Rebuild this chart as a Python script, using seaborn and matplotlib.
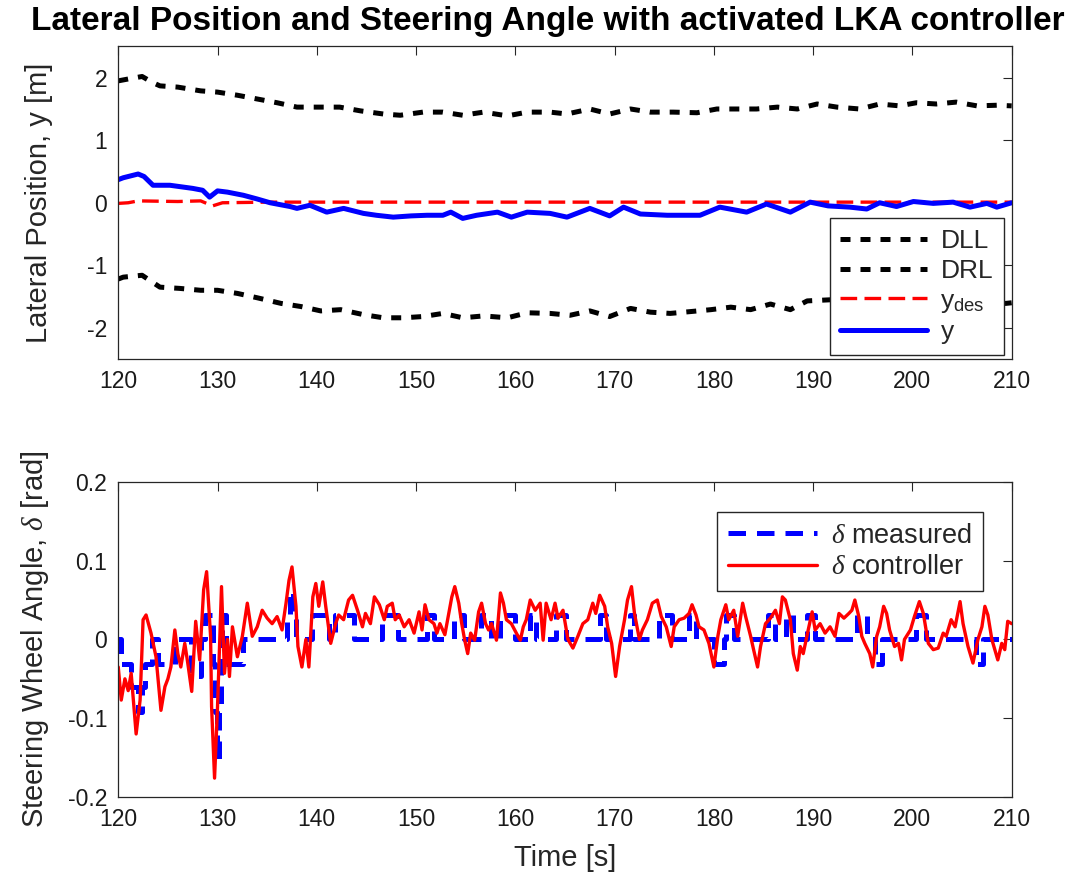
import numpy as np
import pandas as pd
import matplotlib
matplotlib.use('Agg')
import matplotlib.pyplot as plt
import seaborn as sns

# --- Data ---
# top panel: lane boundaries, desired and actual lateral position [m]
dll_t = [120, 121, 122.4, 123.5, 124.2, 126, 128.3, 130, 132, 134, 136, 138, 140, 142.3,
         144.4, 146.7, 148.4, 150.7, 152.7, 154.7, 156.8, 159.2, 161.2, 163.5, 165.2, 167.5,
         169.5, 171.6, 173.6, 175.9, 178.3, 180.3, 182.3, 184.3, 186.4, 188.4, 190.4, 192.4,
         194.7, 196.7, 198.7, 200.4, 202.4, 204.4, 206.5, 208.5, 210]
dll_v = [1.95, 1.98, 2.02, 1.92, 1.87, 1.85, 1.79, 1.77, 1.72, 1.66, 1.60, 1.53, 1.53, 1.53,
         1.47, 1.42, 1.40, 1.45, 1.45, 1.40, 1.45, 1.39, 1.45, 1.45, 1.42, 1.50,
         1.42, 1.50, 1.45, 1.45, 1.44, 1.50, 1.50, 1.50, 1.53, 1.50, 1.58, 1.53,
         1.50, 1.58, 1.55, 1.60, 1.58, 1.61, 1.55, 1.56, 1.55]

drl_t = [120, 120.5, 122.4, 124.2, 126.2, 128.3, 130, 132, 134, 136.4, 138.4, 140.4, 142.4,
         144.7, 146.7, 148.7, 150.7, 152.7, 154.7, 156.8, 159.2, 161.2, 163.5, 165.5, 167.5,
         169.5, 171.6, 173.6, 175.6, 177.7, 179.7, 181.7, 183.7, 185.7, 187.7, 189.4, 192,
         195, 198, 201, 204, 207, 209.4, 210]
drl_v = [-1.22, -1.19, -1.16, -1.35, -1.37, -1.40, -1.40, -1.45, -1.52, -1.61, -1.66, -1.73, -1.71,
         -1.79, -1.84, -1.84, -1.82, -1.77, -1.84, -1.81, -1.84, -1.76, -1.77, -1.80, -1.73,
         -1.82, -1.69, -1.75, -1.77, -1.74, -1.71, -1.67, -1.71, -1.62, -1.71, -1.57, -1.55,
         -1.58, -1.55, -1.57, -1.55, -1.58, -1.61, -1.60]

ydes_t = [120, 121, 122, 126, 128.3, 129.5, 130.5, 135, 150, 170, 190, 210]
ydes_v = [-0.01, 0.0, 0.03, 0.02, 0.03, -0.05, 0.0, 0.01, 0.01, 0.01, 0.01, 0.01]

y_t = [120, 120.5, 121, 122, 122.6, 123.5, 125.2, 127.5, 128.5, 129.2, 130, 131, 132.6, 134,
       135.3, 137.3, 138, 139.3, 141, 142.7, 144.7, 146, 147.7, 149.5, 151.1, 152.7, 153.5,
       154.7, 156.1, 158.2, 159.6, 161.2, 163.5, 165.2, 167.5, 169.5, 170.9, 172.6, 175.3,
       178.6, 180.6, 183.3, 185.3, 187.7, 189.7, 191.5, 193.7, 195.4, 196.7, 198.4, 200.1,
       202.1, 204.1, 205.8, 207.5, 208.5, 210]
y_v = [0.37, 0.40, 0.42, 0.46, 0.42, 0.28, 0.28, 0.23, 0.20, 0.09, 0.19, 0.17, 0.12, 0.06,
       0.0, -0.06, -0.09, -0.04, -0.15, -0.09, -0.17, -0.20, -0.23, -0.21, -0.20, -0.20, -0.15,
       -0.25, -0.20, -0.15, -0.23, -0.15, -0.17, -0.23, -0.09, -0.21, -0.07, -0.18, -0.20,
       -0.20, -0.07, -0.15, -0.02, -0.15, 0.01, -0.05, -0.07, -0.10, 0.0, -0.06, 0.02,
       -0.01, 0.01, -0.07, -0.01, -0.07, 0.0]

# bottom panel: steering wheel angle [rad]
meas_t = [120.0, 120.3, 121.3, 122.0, 122.4, 122.7, 123.4, 124.0, 125.7, 127.3, 128.3, 128.7,
          129.5, 129.7, 129.9, 130.1, 130.3, 130.5, 130.9, 132.6, 137.0, 137.3, 137.6, 137.9,
          139.5, 141.2, 141.8, 143.7, 146.6, 148.2, 151.1, 151.8, 153.8, 154.8, 156.5, 157.5,
          158.5, 160.0, 161.5, 162.1, 164.1, 165.1, 168.5, 169.1, 171.5, 172.0, 174.5, 175.8,
          177.5, 178.2, 180.0, 181.0, 181.2, 182.0, 185.5, 186.2, 187.3, 188.0, 189.4, 190.2,
          194.4, 195.4, 196.2, 196.9, 200.4, 201.4, 206.4, 207.1, 210.0]
meas_v = [0.0, -0.031, -0.061, -0.092, -0.061, -0.031, 0.0, -0.031, 0.0, -0.046, 0.0, 0.031,
          -0.031, -0.092, -0.153, -0.092, -0.031, 0.031, -0.031, 0.0, 0.031, 0.061, 0.031, 0.0,
          0.031, 0.0, 0.031, 0.0, 0.031, 0.0, 0.031, 0.0, 0.031, 0.0, 0.031, 0.0,
          0.031, 0.0, 0.031, 0.0, 0.031, 0.0, 0.031, 0.0, 0.031, 0.0, 0.031, 0.0,
          0.031, 0.0, -0.031, 0.0, 0.031, 0.0, 0.031, 0.0, 0.031, 0.0, 0.031, 0.0,
          0.031, 0.0, -0.031, 0.0, 0.031, 0.0, -0.031, 0.0, 0.0]

ctrl_t = [120.0, 120.3, 120.67, 121.0, 121.3, 121.8, 122.2, 122.5, 122.8, 123.3, 123.8, 124.3,
          124.7, 125.0, 125.3, 125.7, 126.0, 126.3, 126.7, 127.0, 127.4, 127.8, 128.2, 128.6,
          128.9, 129.3, 129.4, 129.7, 130.0, 130.4, 130.7, 131.0, 131.2, 131.5, 132.0, 132.5,
          133.0, 133.5, 134.0, 134.5, 135.0, 135.5, 136.0, 136.5, 136.9, 137.2, 137.5, 137.9,
          138.1, 138.5, 138.9, 139.2, 139.6, 139.9, 140.2, 140.6, 140.9, 141.4, 141.9, 142.2,
          142.7, 143.2, 143.6, 144.1, 144.6, 144.9, 145.4, 145.8, 146.3, 146.8, 147.1, 147.6,
          147.9, 148.3, 148.8, 149.3, 149.8, 150.3, 150.6, 150.9, 151.3, 151.8, 152.1, 152.4,
          152.9, 153.3, 153.6, 153.9, 154.3, 154.6, 154.9, 155.2, 155.5, 155.9, 156.3, 156.6,
          157.0, 157.3, 157.6, 158.1, 158.5, 158.8, 159.1, 159.6, 160.1, 160.5, 160.8, 161.1,
          161.5, 162.0, 162.5, 162.8, 163.1, 163.6, 164.0, 164.3, 164.8, 165.3, 165.8, 166.3,
          166.8, 167.3, 167.8, 168.1, 168.5, 169.0, 169.3, 169.7, 170.1, 170.5, 171.0, 171.3,
          171.7, 172.0, 172.5, 172.8, 173.3, 173.8, 174.3, 174.7, 175.2, 175.7, 176.0, 176.5,
          177.0, 177.5, 177.8, 178.2, 178.5, 179.0, 179.5, 180.0, 180.4, 180.7, 181.2, 181.5,
          182.0, 182.4, 182.9, 183.2, 183.7, 184.0, 184.4, 184.7, 185.2, 185.7, 186.2, 186.6,
          186.9, 187.2, 187.7, 188.0, 188.4, 188.7, 189.0, 189.5, 189.9, 190.2, 190.7, 191.2,
          191.7, 192.2, 192.6, 193.1, 193.6, 193.9, 194.2, 194.6, 194.9, 195.2, 195.7, 196.0,
          196.4, 196.7, 197.1, 197.4, 197.7, 198.2, 198.6, 198.9, 199.2, 199.8, 200.2, 200.7,
          201.1, 201.6, 202.1, 202.6, 203.1, 203.4, 203.9, 204.3, 204.8, 205.1, 205.6, 206.1,
          206.6, 207.0, 207.3, 207.6, 208.0, 208.3, 208.6, 209.0, 209.3, 209.6, 210.0]
ctrl_v = [-0.035, -0.077, -0.05, -0.065, -0.043, -0.12, -0.077, 0.025, 0.031, 0.008, -0.022, -0.09,
          -0.06, -0.05, -0.035, 0.012, -0.018, -0.035, -0.005, -0.03, -0.066, 0.023, -0.026, 0.063,
          0.086, 0.004, -0.085, -0.176, -0.085, 0.067, -0.043, 0.0, -0.047, 0.016, -0.022, 0.004,
          0.046, 0.004, 0.016, 0.037, 0.027, 0.02, 0.029, 0.012, 0.046, 0.075, 0.092, 0.042,
          -0.009, -0.035, 0.0, -0.035, 0.054, 0.071, 0.042, 0.073, 0.042, -0.005, 0.02, 0.031,
          0.025, 0.05, 0.056, 0.037, 0.016, 0.033, 0.02, 0.054, 0.044, 0.025, 0.042, 0.046,
          0.025, 0.031, 0.016, 0.025, 0.008, 0.035, 0.012, 0.044, 0.025, 0.02, 0.008, 0.02,
          0.006, 0.033, 0.054, 0.067, 0.046, 0.02, -0.001, -0.018, 0.008, -0.001, 0.035, 0.046,
          0.02, 0.012, 0.02, -0.001, 0.059, 0.046, 0.025, 0.02, 0.008, -0.001, 0.016, 0.025,
          0.05, 0.037, 0.046, -0.001, 0.046, 0.025, 0.046, 0.027, 0.037, 0.0, -0.011, 0.004,
          0.02, 0.025, 0.046, 0.033, 0.056, 0.042, 0.016, -0.005, -0.047, -0.009, 0.025, 0.05,
          0.067, 0.033, 0.0, 0.012, 0.025, 0.046, 0.05, 0.029, 0.016, -0.009, 0.016, 0.025,
          0.027, 0.033, 0.044, 0.031, 0.016, 0.012, -0.005, -0.035, 0.004, 0.025, 0.044, 0.025,
          0.037, 0.004, 0.046, 0.029, 0.004, -0.013, -0.035, -0.009, 0.02, 0.027, 0.037, 0.02,
          0.054, 0.05, 0.025, -0.018, -0.039, -0.009, -0.018, 0.012, 0.035, 0.012, 0.02, 0.008,
          0.016, 0.004, 0.033, 0.027, 0.033, 0.037, 0.05, 0.029, 0.004, -0.005, -0.018, -0.035,
          0.004, 0.016, 0.042, 0.033, 0.012, -0.009, -0.005, -0.026, 0.0, 0.012, 0.029, 0.048,
          0.033, -0.005, -0.013, -0.011, 0.008, 0.004, 0.025, 0.016, 0.048, 0.02, -0.009, -0.03,
          0.0, 0.016, 0.042, 0.031, 0.0, -0.013, -0.026, -0.005, -0.013, 0.023, 0.02]

x_ticks = [120, 130, 140, 150, 160, 170, 180, 190, 200, 210]
top_yticks = [-2, -1, 0, 1, 2]
bot_yticks = [-0.2, -0.1, 0, 0.1, 0.2]
bot_yticklabels = ['-0.2', '-0.1', '0', '0.1', '0.2']

# --- Style ---
sns.set_theme(style='white')
plt.rcParams['font.family'] = ['Liberation Sans', 'DejaVu Sans']
plt.rcParams['axes.unicode_minus'] = False
plt.rcParams['mathtext.fontset'] = 'custom'
plt.rcParams['mathtext.rm'] = 'Liberation Sans'
plt.rcParams['mathtext.it'] = 'Liberation Serif:italic'

AX_COL = '#262626'

fig = plt.figure(figsize=(10.84, 8.77), dpi=100)
ax1 = fig.add_axes([0.1091, 0.5906, 0.8242, 0.3564])
ax2 = fig.add_axes([0.1091, 0.0912, 0.8242, 0.3594])

# --- Top panel ---
sns.lineplot(x=dll_t, y=dll_v, ax=ax1, color='black', linewidth=3.6,
             linestyle=(0, (2.0, 2.0)), label='DLL')
sns.lineplot(x=drl_t, y=drl_v, ax=ax1, color='black', linewidth=3.6,
             linestyle=(0, (2.0, 2.0)), label='DRL')
sns.lineplot(x=ydes_t, y=ydes_v, ax=ax1, color='#ff0000', linewidth=2.4,
             linestyle=(0, (5, 2.2)), label=r'y$_{\rm des}$')
sns.lineplot(x=y_t, y=y_v, ax=ax1, color='#0000ff', linewidth=3.6, label='y')

ax1.set_xlim(120, 210)
ax1.set_ylim(-2.5, 2.5)
ax1.set_yticks(top_yticks)
ax1.set_ylabel('Lateral Position, y [m]', fontsize=21, labelpad=24)
ax1.set_xlabel('')
ax1.legend(loc='lower right', bbox_to_anchor=(0.991, 0.013), borderaxespad=0,
           fontsize=19, handlelength=3.3, fancybox=False,
           edgecolor=AX_COL, framealpha=1, labelspacing=0.22,
           handletextpad=0.5, borderpad=0.4)

# --- Bottom panel ---
sns.lineplot(x=meas_t, y=meas_v, ax=ax2, color='#0000ff', linewidth=3.6,
             linestyle=(0, (3.5, 2.2)), drawstyle='steps-post', label=r'$\delta$ measured')
sns.lineplot(x=ctrl_t, y=ctrl_v, ax=ax2, color='#ff0000', linewidth=2.4,
             label=r'$\delta$ controller')

ax2.set_xlim(120, 210)
ax2.set_ylim(-0.2, 0.2)
ax2.set_yticks(bot_yticks)
ax2.set_yticklabels(bot_yticklabels)
ax2.set_xlabel('Time [s]', fontsize=21, labelpad=9)
ax2.set_ylabel(r'Steering Wheel Angle, $\delta$ [rad]', fontsize=21, labelpad=12)
ax2.legend(loc='upper right', bbox_to_anchor=(0.9676, 0.905), borderaxespad=0,
           fontsize=19.5, handlelength=3.3, fancybox=False,
           edgecolor=AX_COL, framealpha=1, labelspacing=0.2,
           handletextpad=0.5, borderpad=0.4)

for ax in (ax1, ax2):
    ax.set_xticks(x_ticks)
    ax.tick_params(direction='in', length=6.5, width=0.8, top=True, right=True,
                   labelsize=16.5, color=AX_COL, labelcolor='#1a1a1a', pad=8)
    for sp in ax.spines.values():
        sp.set_color(AX_COL)
        sp.set_linewidth(0.9)
        sp.set_visible(True)

fig.text(0.505, 0.975, 'Lateral Position and Steering Angle with activated LKA controller',
         ha='center', va='center', fontsize=24, fontweight='bold', color='black')

fig.savefig('out.png', dpi=100, facecolor='white')
